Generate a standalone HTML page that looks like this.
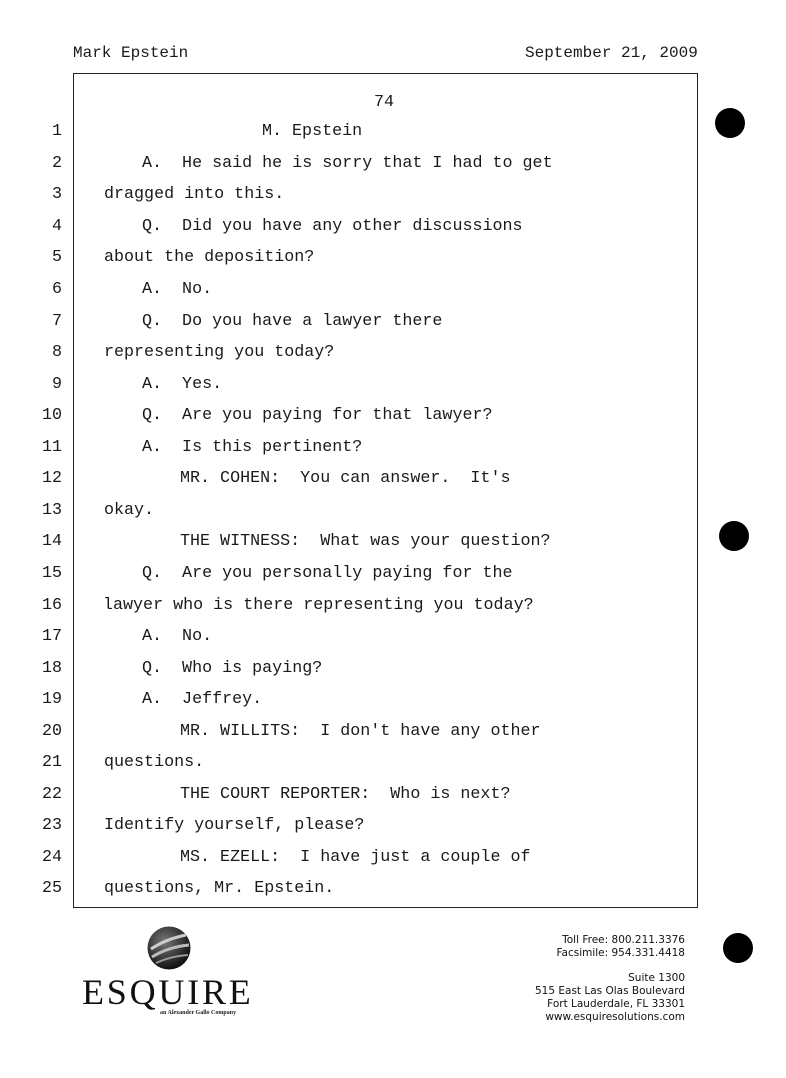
<!DOCTYPE html>
<html><head><meta charset="utf-8"><style>
html,body{margin:0;padding:0;background:#fff;}
body{width:786px;height:1078px;position:relative;overflow:hidden;font-family:"Liberation Mono",monospace;color:#1a1a1a;}
.t{position:absolute;font-size:16.7px;line-height:20px;white-space:pre;}
.n{position:absolute;font-size:16.7px;line-height:20px;width:40px;text-align:right;left:22px;}
.dot{position:absolute;width:30px;height:30px;border-radius:50%;background:#000;}
.ft{position:absolute;font-family:"DejaVu Sans",sans-serif;font-size:10.5px;line-height:13px;text-align:right;right:101px;color:#111;}
</style></head><body>
<div class="t" style="left:73px;top:43px;font-size:16px;">Mark Epstein</div>
<div class="t" style="left:525px;top:43px;font-size:16px;">September 21, 2009</div>
<div style="position:absolute;left:73px;top:73px;width:623px;height:833px;border:1.5px solid #222;"></div>
<div class="t" style="left:374px;top:93px;">74</div>
<div class="dot" style="left:715px;top:108px;"></div>
<div class="dot" style="left:719px;top:521px;"></div>
<div class="dot" style="left:723px;top:933px;"></div>

<div class="n" style="top:122px">1</div><div class="t" style="left:262px;top:122px">M. Epstein</div>
<div class="n" style="top:153.5px">2</div><div class="t" style="left:142px;top:153.5px">A.  He said he is sorry that I had to get</div>
<div class="n" style="top:185px">3</div><div class="t" style="left:104px;top:185px">dragged into this.</div>
<div class="n" style="top:216.5px">4</div><div class="t" style="left:142px;top:216.5px">Q.  Did you have any other discussions</div>
<div class="n" style="top:248px">5</div><div class="t" style="left:104px;top:248px">about the deposition?</div>
<div class="n" style="top:280px">6</div><div class="t" style="left:142px;top:280px">A.  No.</div>
<div class="n" style="top:311.5px">7</div><div class="t" style="left:142px;top:311.5px">Q.  Do you have a lawyer there</div>
<div class="n" style="top:343px">8</div><div class="t" style="left:104px;top:343px">representing you today?</div>
<div class="n" style="top:374.5px">9</div><div class="t" style="left:142px;top:374.5px">A.  Yes.</div>
<div class="n" style="top:406px">10</div><div class="t" style="left:142px;top:406px">Q.  Are you paying for that lawyer?</div>
<div class="n" style="top:437.5px">11</div><div class="t" style="left:142px;top:437.5px">A.  Is this pertinent?</div>
<div class="n" style="top:469px">12</div><div class="t" style="left:180px;top:469px">MR. COHEN:  You can answer.  It's</div>
<div class="n" style="top:500.5px">13</div><div class="t" style="left:104px;top:500.5px">okay.</div>
<div class="n" style="top:532px">14</div><div class="t" style="left:180px;top:532px">THE WITNESS:  What was your question?</div>
<div class="n" style="top:564px">15</div><div class="t" style="left:142px;top:564px">Q.  Are you personally paying for the</div>
<div class="n" style="top:595.5px">16</div><div class="t" style="left:103px;top:595.5px">lawyer who is there representing you today?</div>
<div class="n" style="top:627px">17</div><div class="t" style="left:142px;top:627px">A.  No.</div>
<div class="n" style="top:658.5px">18</div><div class="t" style="left:142px;top:658.5px">Q.  Who is paying?</div>
<div class="n" style="top:690px">19</div><div class="t" style="left:142px;top:690px">A.  Jeffrey.</div>
<div class="n" style="top:721.5px">20</div><div class="t" style="left:180px;top:721.5px">MR. WILLITS:  I don't have any other</div>
<div class="n" style="top:753px">21</div><div class="t" style="left:104px;top:753px">questions.</div>
<div class="n" style="top:784.5px">22</div><div class="t" style="left:180px;top:784.5px">THE COURT REPORTER:  Who is next?</div>
<div class="n" style="top:816px">23</div><div class="t" style="left:104px;top:816px">Identify yourself, please?</div>
<div class="n" style="top:848px">24</div><div class="t" style="left:180px;top:848px">MS. EZELL:  I have just a couple of</div>
<div class="n" style="top:879px">25</div><div class="t" style="left:104px;top:879px">questions, Mr. Epstein.</div>

<svg style="position:absolute;left:146px;top:925px" width="46" height="46" viewBox="0 0 46 46">
<defs><radialGradient id="g" cx="40%" cy="35%" r="65%"><stop offset="0" stop-color="#777"/><stop offset="1" stop-color="#111"/></radialGradient></defs>
<circle cx="23" cy="23" r="21.5" fill="url(#g)"/>
<path d="M5 24 Q20 14 40 10" stroke="#ccc" stroke-width="3" fill="none"/>
<path d="M6 32 Q22 22 43 20" stroke="#bbb" stroke-width="3" fill="none"/>
<path d="M10 38 Q25 31 42 30" stroke="#999" stroke-width="2" fill="none"/>
</svg>
<div style="position:absolute;left:82px;top:972px;font-family:'Liberation Serif',serif;font-size:36px;line-height:40px;letter-spacing:2.8px;color:#111;">ESQUIRE</div>
<div style="position:absolute;left:160px;top:1009px;font-family:'Liberation Serif',serif;font-size:6px;font-weight:bold;line-height:8px;color:#222;">an Alexander Gallo Company</div>

<div class="ft" style="top:934px">Toll Free: 800.211.3376<br>Facsimile: 954.331.4418</div>
<div class="ft" style="top:972px">Suite 1300<br>515 East Las Olas Boulevard<br>Fort Lauderdale, FL 33301<br>www.esquiresolutions.com</div>
</body></html>
